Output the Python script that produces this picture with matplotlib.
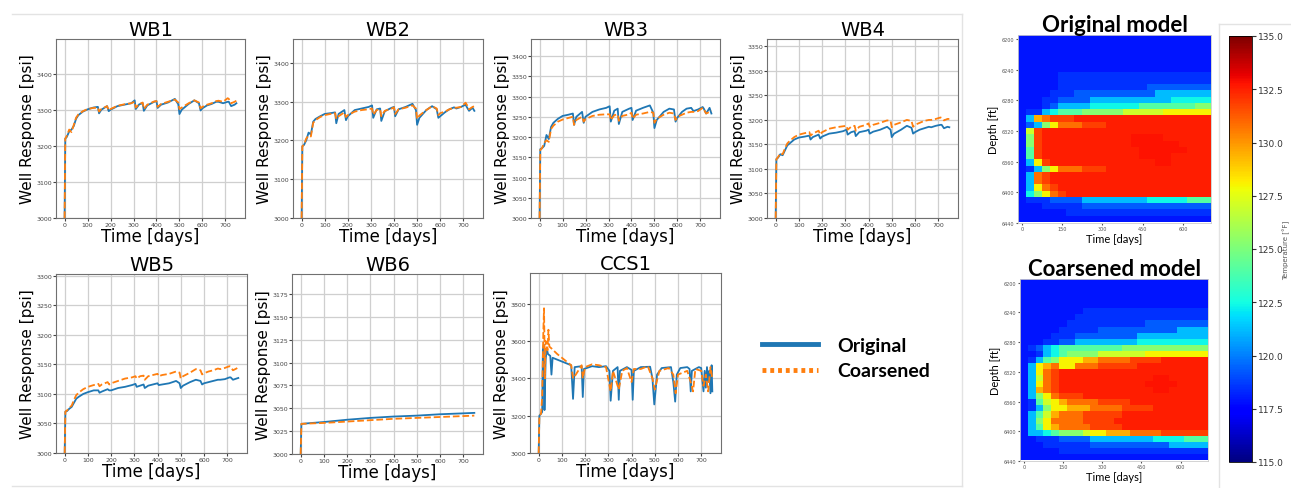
import matplotlib
matplotlib.use("Agg")
import matplotlib.pyplot as plt
import numpy as np
from matplotlib.lines import Line2D
from matplotlib.ticker import MultipleLocator

# ---- well responses (pressure in psi) ----
t_days = [0, 3, 10, 20, 30, 40, 50, 60, 80, 100,
          125, 145, 150, 160, 185, 192, 200, 230, 260, 290,
          305, 310, 325, 340, 345, 360, 390, 400, 405, 420,
          450, 480, 495, 500, 510, 540, 565, 585, 592, 600,
          620, 640, 660, 670, 690, 710, 715, 725, 740, 748]

wb1_orig = [3000, 3220, 3225, 3240, 3245, 3255, 3275, 3285, 3295, 3301,
            3306, 3308, 3290, 3300, 3310, 3296, 3300, 3310, 3314, 3318,
            3326, 3302, 3315, 3318, 3297, 3312, 3322, 3324, 3305, 3314,
            3320, 3330, 3315, 3288, 3300, 3316, 3326, 3318, 3298, 3304,
            3312, 3316, 3322, 3322, 3318, 3322, 3322, 3310, 3314, 3318]
wb1_coarse = [3000, 3220, 3228, 3245, 3238, 3258, 3278, 3287, 3296, 3302,
              3305, 3306, 3295, 3302, 3310, 3298, 3302, 3311, 3315, 3318,
              3322, 3306, 3316, 3320, 3302, 3314, 3323, 3324, 3308, 3316,
              3322, 3328, 3320, 3302, 3306, 3318, 3326, 3320, 3304, 3308,
              3314, 3318, 3324, 3325, 3322, 3332, 3330, 3318, 3322, 3325]

wb2_orig = [3000, 3185, 3188, 3200, 3220, 3215, 3248, 3255, 3262, 3268,
            3270, 3272, 3244, 3268, 3278, 3252, 3262, 3278, 3282, 3286,
            3290, 3258, 3280, 3282, 3250, 3275, 3284, 3286, 3262, 3280,
            3286, 3294, 3278, 3240, 3258, 3278, 3288, 3280, 3258, 3262,
            3272, 3280, 3285, 3282, 3286, 3292, 3286, 3276, 3284, 3276]
wb2_coarse = [3000, 3185, 3188, 3205, 3212, 3210, 3245, 3252, 3260, 3265,
              3268, 3270, 3255, 3262, 3272, 3260, 3265, 3274, 3278, 3280,
              3282, 3266, 3278, 3280, 3262, 3276, 3282, 3285, 3268, 3280,
              3284, 3290, 3282, 3255, 3264, 3278, 3288, 3282, 3265, 3270,
              3274, 3280, 3284, 3284, 3286, 3297, 3292, 3280, 3286, 3288]

wb3_orig = [3000, 3170, 3172, 3178, 3205, 3195, 3225, 3235, 3245, 3252,
            3255, 3258, 3230, 3250, 3262, 3235, 3250, 3262, 3268, 3272,
            3276, 3238, 3265, 3270, 3232, 3262, 3270, 3272, 3242, 3265,
            3272, 3278, 3260, 3222, 3242, 3262, 3270, 3268, 3238, 3248,
            3262, 3270, 3272, 3264, 3268, 3274, 3270, 3258, 3272, 3258]
wb3_coarse = [3000, 3168, 3172, 3185, 3192, 3188, 3220, 3228, 3238, 3243,
              3247, 3250, 3230, 3242, 3250, 3238, 3244, 3252, 3255, 3256,
              3256, 3242, 3254, 3256, 3240, 3252, 3256, 3260, 3245, 3255,
              3258, 3262, 3260, 3235, 3245, 3255, 3260, 3258, 3242, 3250,
              3255, 3260, 3262, 3262, 3264, 3272, 3268, 3258, 3262, 3265]

wb4_orig = [3000, 3120, 3123, 3130, 3128, 3138, 3148, 3152, 3160, 3164,
            3166, 3168, 3160, 3165, 3170, 3162, 3166, 3172, 3174, 3177,
            3180, 3170, 3175, 3177, 3167, 3175, 3178, 3180, 3172, 3176,
            3180, 3186, 3180, 3165, 3172, 3180, 3188, 3184, 3172, 3175,
            3180, 3183, 3186, 3185, 3188, 3190, 3190, 3183, 3186, 3185]
wb4_coarse = [3000, 3120, 3124, 3132, 3130, 3142, 3152, 3157, 3165, 3170,
              3173, 3175, 3168, 3172, 3178, 3170, 3175, 3182, 3185, 3187,
              3188, 3180, 3186, 3188, 3178, 3186, 3190, 3193, 3186, 3190,
              3194, 3199, 3198, 3185, 3190, 3195, 3200, 3198, 3186, 3190,
              3194, 3198, 3200, 3200, 3202, 3205, 3204, 3199, 3202, 3202]

wb5_orig = [3000, 3070, 3071, 3075, 3078, 3085, 3092, 3095, 3100, 3103,
            3106, 3106, 3102, 3104, 3108, 3106, 3106, 3110, 3112, 3115,
            3117, 3112, 3114, 3116, 3110, 3114, 3117, 3118, 3115, 3116,
            3118, 3122, 3118, 3110, 3114, 3120, 3124, 3122, 3116, 3118,
            3120, 3122, 3124, 3124, 3125, 3128, 3128, 3124, 3126, 3127]
wb5_coarse = [3000, 3070, 3072, 3077, 3080, 3090, 3098, 3102, 3108, 3112,
              3115, 3117, 3113, 3116, 3120, 3116, 3118, 3122, 3126, 3128,
              3130, 3126, 3130, 3131, 3124, 3130, 3133, 3134, 3130, 3132,
              3134, 3138, 3136, 3126, 3130, 3136, 3142, 3140, 3133, 3135,
              3138, 3140, 3143, 3142, 3144, 3147, 3146, 3140, 3143, 3145]

wb6_t = [0, 3, 50, 100, 200, 300, 400, 500, 600, 700, 748]
wb6_orig = [3000, 3033, 3034, 3035, 3037.5, 3039.5, 3041, 3042, 3043.5, 3044.5, 3045]
wb6_coarse = [3000, 3033, 3033.5, 3034, 3035.5, 3037, 3038.5, 3039.5, 3040.5, 3041.5, 3042]

ccs1_t_orig = [0, 3, 10, 15, 18, 22, 25, 30, 35, 40, 50, 55, 60, 80, 100, 120, 140, 148, 155, 185,
               190, 195, 230, 260, 290, 305, 310, 320, 340, 345, 350, 380, 400, 405, 410, 440, 480, 490, 498, 510,
               530, 570, 580, 588, 595, 610, 640, 650, 655, 660, 690, 700, 710, 715, 720, 725, 730, 735, 740, 745, 748]
ccs1_orig = [3000, 3200, 3210, 3220, 3550, 3580, 3230, 3500, 3560, 3530, 3520, 3420, 3510, 3500, 3490, 3480, 3470, 3290, 3460, 3465,
             3300, 3450, 3465, 3460, 3465, 3440, 3280, 3440, 3460, 3285, 3440, 3460, 3445, 3285, 3440, 3460, 3462, 3400, 3260, 3420,
             3455, 3460, 3380, 3275, 3420, 3455, 3460, 3450, 3330, 3440, 3460, 3455, 3330, 3440, 3350, 3460, 3380, 3440, 3320, 3470, 3330]
ccs1_t_coarse = [0, 3, 10, 15, 20, 23, 27, 30, 38, 42, 46, 55, 80, 100, 120, 140, 148, 160, 185, 190,
                 200, 230, 260, 290, 310, 320, 345, 360, 380, 400, 410, 440, 470, 490, 500, 520, 560, 580, 590, 600,
                 640, 655, 665, 675, 700, 710, 720, 730, 740, 748]
ccs1_coarse = [3000, 3200, 3210, 3300, 3650, 3775, 3400, 3600, 3550, 3660, 3570, 3560, 3530, 3510, 3490, 3470, 3400, 3420, 3470, 3400,
               3460, 3475, 3470, 3460, 3330, 3440, 3340, 3440, 3455, 3380, 3450, 3450, 3465, 3400, 3340, 3440, 3455, 3420, 3320, 3420,
               3440, 3380, 3330, 3450, 3440, 3360, 3420, 3330, 3460, 3400]

well_names = ["WB1", "WB2", "WB3", "WB4", "WB5", "WB6", "CCS1"]
y_tops = [3496, 3461, 3442, 3365, 3303, 3197, 3964]
y_steps = [100, 100, 50, 50, 50, 25, 200]

# ---- temperature maps (degF), one letter per cell, 30 depth rows x 24 time columns ----
temp_codes = {'B': 117.9, 'b': 118.5, 'l': 119.3, 'c': 121.2, 'C': 122.4, 'g': 124.0,
              'G': 125.3, 'Y': 127.0, 'y': 128.0, 'o': 129.5, 'O': 130.8, 'r': 131.8,
              'R': 132.5, 'D': 132.8}
map_days = [0, 690]
map_depth = [6195, 6439]

orig_rows = [
    'BBBBBBBBBBBBBBBBBBBBBBBB',
    'BBBBBBBBBBBBBBBBBBBBBBBB',
    'BBBBBBBBBBBBBBBBBBBBBBBB',
    'BBBBBBBBBBBBBBBBBBBBBBBB',
    'BBBBBBBBBBBBBBBBBBBBBBBB',
    'BBBBBBBBBBBBBBBBBBBBBBBB',
    'BBBBBbbbbbbbbbbbbbbbbbbb',
    'BBBBBbbbbbbbbbbbbbbbbbbb',
    'BBBBBbbbbbbbbbbbllllllll',
    'BBBBbbbllllllllllccccccc',
    'BBBbbllllccccccccccCCCCC',
    'BBBblccccCCCCCCgggggggGG',
    'BbbcCgggGGGGGYYYYYyyyyyy',
    'BcoOrrrRRRRRRRRRRRRRRRRR',
    'BlcGyOOOrrrRRRRRRRRRRRRR',
    'BYrRRRRRRRRRRRRRRRRRRRRR',
    'BGrRRRRRRRRRRRDDDDRRRRRR',
    'BGrRRRRRRRRRRRDDDDDDRRRR',
    'BgrRRRRRRRRRRRRDDDDDDRRR',
    'BgrRRRRRRRRRRRRDDDDRRRRR',
    'BcyrRRRRRRRRRRRRRDDRRRRR',
    'BbcGyOOOrrrRRRRRRRRRRRRR',
    'BcOrRRRRRRRRRRRRRRRRRRRR',
    'BcOrRRRRRRRRRRRRRRRRRRRR',
    'BcyOrRRRRRRRRRRRRRRRRRRR',
    'BCGyOrRRRRRRRRRRRRRRRRRR',
    'BbbbllllccccccccCCCCCggg',
    'BBBbbbbbllllllllllllllll',
    'BBBBBBbbbbbbbbbbbbbbbbbb',
    'BBBBBBBBBBBBBBBBBBBBBBBB',
]

coarse_rows = [
    'BBBBBBBBBBBBBBBBBBBBBBBB',
    'BBBBBBBBBBBBBBBBBBBBBBBB',
    'BBBBBBBBBBBBBBBBBBBBBBBB',
    'BBBBBBBBBBBBBBBBBBBBBBBB',
    'BBBBBBBBBBBBBBBBBBBBBBBB',
    'BBBBBBBBbbbbbbbbbbbbbbbb',
    'BBBBBBBbbbbbbbbbbbbbbbbb',
    'BBBBBBbbbbbbbbbbllllllll',
    'BBBBBbbbbbllllllllllcccc',
    'BBBBbbbllllllllccccccccc',
    'BBBbbllccccccccCCCCCCCCC',
    'BblcCggggggggGGGGGGGGGGG',
    'BBbcCgGGGGYYYYYYyyyyyyyy',
    'BbcgGyyyooOOOOrrrrRRRRRR',
    'BcyoOyyOOOrrrrrRRRRRRRRR',
    'BcyOrRRRRRRRRRRRRRRRRRRR',
    'BcYOrRRRRRRRRRRRRDDRRRRR',
    'BcyOrRRRRRRRRRRRDDDDRRRR',
    'BcoOrRRRRRRRRRRRRDDRRRRR',
    'BcGyOrrrRRRRRRRRRRRRRRRR',
    'BbgYyoOOOOrrrrRRRRRRRRRR',
    'BbcGyyoooOOOOrrrrRRRRRRR',
    'BcgYoOOOrrrrrRRRRRRRRRRR',
    'BcGyOOOOrrrrRRRRRRRRRRRR',
    'BcgyoOOOOrrrrRRRRRRRRRRR',
    'BccCgGGGYyyoooOOOOrrrrrr',
    'BBbbbllllccccccccCCCCggg',
    'BBBbbbbbbllllllllllccccc',
    'BBBBBbbbbbbbbbbbbbbbbbbb',
    'BBBBBBBBBBBBBBBBBBBBBBBB',
]

W, H = 1291, 489
fig = plt.figure(figsize=(W / 100, H / 100), dpi=100)


def box(x0, y0, x1, y1):
    return [x0 / W, 1 - y1 / H, (x1 - x0) / W, (y1 - y0) / H]


def wellPlot(ax, name, t1, orig, t2, coarse, ytop, ystep):
    ax.plot(t1, orig, color='#1f77b4', lw=1.3)
    ax.plot(t2, coarse, color='#ff7f0e', lw=1.3, ls='--')
    ax.set_ylim(3000, ytop)
    ax.xaxis.set_major_locator(MultipleLocator(100))
    ax.yaxis.set_major_locator(MultipleLocator(ystep))
    ax.set_title(name, fontsize=14, pad=3)
    ax.set_xlabel('Time [days]', fontsize=12, labelpad=0)
    ax.set_ylabel('Well Response [psi]', fontsize=11, labelpad=1)
    ax.grid(color='#cfcfcf', lw=0.9)
    ax.tick_params(labelsize=4.5, length=2, pad=1, colors='#444444')
    for s in ax.spines.values():
        s.set_color('#707070')


well_boxes = [(56, 40, 245, 219), (293, 40, 483, 219), (531, 40, 720, 219), (767, 40, 958, 219),
              (56, 275, 247, 454), (292, 275, 483, 455), (530, 274, 721, 454)]
series = [(t_days, wb1_orig, t_days, wb1_coarse),
          (t_days, wb2_orig, t_days, wb2_coarse),
          (t_days, wb3_orig, t_days, wb3_coarse),
          (t_days, wb4_orig, t_days, wb4_coarse),
          (t_days, wb5_orig, t_days, wb5_coarse),
          (wb6_t, wb6_orig, wb6_t, wb6_coarse),
          (ccs1_t_orig, ccs1_orig, ccs1_t_coarse, ccs1_coarse)]

for i in range(len(well_names)):
    ax = fig.add_axes(box(*well_boxes[i]))
    t1, o, t2, c = series[i]
    wellPlot(ax, well_names[i], t1, o, t2, c, y_tops[i], y_steps[i])

# legend
handles = [Line2D([], [], color='#1f77b4', lw=3.5),
           Line2D([], [], color='#ff7f0e', lw=3.5, ls=(0, (0.8, 0.8)))]
fig.legend(handles, ['Original', 'Coarsened'], loc='center left',
           bbox_to_anchor=(744 / W, 1 - 359 / H), frameon=False,
           prop={'family': 'Lato', 'weight': 'bold', 'size': 14},
           handlelength=2.9, handletextpad=1.0, labelspacing=0.45)


# temperature maps
def tempMap(ax, rows, title):
    grid = np.array([[temp_codes[ch] for ch in row] for row in rows])
    half = (map_days[1] - map_days[0]) / (grid.shape[1] - 1) / 2
    im = ax.imshow(grid, cmap='jet', vmin=115, vmax=135, aspect='auto', interpolation='nearest',
                   extent=[map_days[0] - half, map_days[1] + half, map_depth[1], map_depth[0]])
    ax.set_xticks([0, 150, 300, 450, 600])
    ax.set_yticks(np.arange(6200, 6441, 40))
    ax.tick_params(labelsize=3.5, length=1.5, pad=1, colors='#555555')
    ax.set_xlabel('Time [days]', fontsize=8, family='Lato', labelpad=1)
    ax.set_ylabel('Depth [ft]', fontsize=8, family='Lato', labelpad=2)
    ax.set_title(title, fontsize=16, family='Lato', weight='bold', pad=3)
    for s in ax.spines.values():
        s.set_color('#cccccc')
        s.set_linewidth(0.6)
    return im


ax_o = fig.add_axes(box(1018, 36, 1211, 224))
im = tempMap(ax_o, orig_rows, 'Original model')
ax_c = fig.add_axes(box(1020, 280, 1208, 462))
tempMap(ax_c, coarse_rows, 'Coarsened model')

cax = fig.add_axes(box(1229, 37, 1252, 463))
cb = fig.colorbar(im, cax=cax, ticks=np.arange(115, 135.1, 2.5), format='%.1f')
cb.ax.tick_params(labelsize=6.5, length=3, pad=1, colors='#333333')
cb.outline.set_linewidth(0.6)
fig.text(1290.5 / W, 1 - 250 / H, 'Temperature [°F]', rotation=90, ha='right', va='center',
         fontsize=5, color='#555555')

# slide frame lines
grey = '#e3e3e3'
fig.add_artist(Line2D([12 / W, 962 / W], [1 - 15 / H, 1 - 15 / H], transform=fig.transFigure, color=grey, lw=1))
fig.add_artist(Line2D([12 / W, 962 / W], [1 - 487 / H, 1 - 487 / H], transform=fig.transFigure, color=grey, lw=1))
fig.add_artist(Line2D([962 / W, 962 / W], [1 - 15 / H, 1 - 487 / H], transform=fig.transFigure, color=grey, lw=1))
fig.add_artist(Line2D([1219 / W, 1219 / W], [1 - 25 / H, 0], transform=fig.transFigure, color=grey, lw=1))
fig.add_artist(Line2D([1219 / W, 1], [1 - 25 / H, 1 - 25 / H], transform=fig.transFigure, color=grey, lw=1))

fig.savefig("out.png", dpi=100)
